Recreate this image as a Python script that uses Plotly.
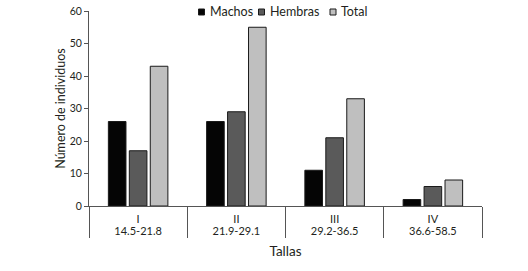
import plotly.graph_objects as go

clases = ["I", "II", "III", "IV"]
rangos = ["14.5-21.8", "21.9-29.1", "29.2-36.5", "36.6-58.5"]
series_names = ["Machos", "Hembras", "Total"]
machos = [26, 26, 11, 2]
hembras = [17, 29, 21, 6]
total = [43, 55, 33, 8]
y_ticks = [0, 10, 20, 30, 40, 50, 60]

colors = ["#050505", "#5a5a5a", "#bfbfbf"]
font_family = "Lato"
text_color = "#231f20"
axis_color = "#555555"

W, H = 528, 271
ML, MR, MT, MB = 89, 46, 11, 65
PW, PH = W - ML - MR, H - MT - MB

x = [rangos, clases]

fig = go.Figure()
for name, vals, color in zip(series_names, [machos, hembras, total], colors):
    fig.add_trace(go.Bar(x=x, y=vals, name=name, showlegend=False,
                         marker=dict(color=color, line=dict(color="#1a1a1a", width=1))))

# compact legend (key squares + labels), positions in figure pixels
key_left_px = [198.5, 258.5, 330]
key_size = 6
key_cy = 12
for name, color, kx in zip(series_names, colors, key_left_px):
    x0 = (kx - ML) / PW
    x1 = (kx + key_size - ML) / PW
    y0 = 1 - (key_cy + key_size / 2 - MT) / PH
    y1 = 1 - (key_cy - key_size / 2 - MT) / PH
    fig.add_shape(type="rect", xref="paper", yref="paper", x0=x0, x1=x1, y0=y0, y1=y1,
                  fillcolor=color, line=dict(color="#1a1a1a", width=1))
    fig.add_annotation(xref="paper", yref="paper", x=(kx + key_size + 3 - ML) / PW,
                       y=1 - (key_cy - MT) / PH, xanchor="left", yanchor="middle",
                       text=name, showarrow=False, font=dict(size=12.5, color=text_color))

fig.update_layout(
    width=W, height=H,
    margin=dict(l=ML, r=MR, t=MT, b=MB, autoexpand=False),
    plot_bgcolor="white", paper_bgcolor="white",
    font=dict(family=font_family, size=11, color=text_color),
    barmode="group", bargap=0.36, bargroupgap=0.16,
    showlegend=False, hovermode=False,
    xaxis=dict(type="multicategory", showline=True, linecolor=axis_color, linewidth=1,
               ticks="", showgrid=False, dividercolor=axis_color, dividerwidth=1,
               showdividers=True, tickfont=dict(size=11), automargin=False,
               ticklabelstandoff=3,
               title=dict(text="Tallas", font=dict(size=13.5), standoff=10)),
    yaxis=dict(range=[0, 60], tickvals=y_ticks, showline=True, linecolor=axis_color,
               linewidth=1, ticks="outside", ticklen=4, tickcolor=axis_color,
               showgrid=False, zeroline=False, tickfont=dict(size=10.5), automargin=False,
               title=dict(text="Número de individuos", font=dict(size=12.5), standoff=1)),
)

fig.write_html("out.html", config={"displayModeBar": False, "staticPlot": True},
               post_script="document.body.style.margin='0';document.body.style.overflow='hidden';")
